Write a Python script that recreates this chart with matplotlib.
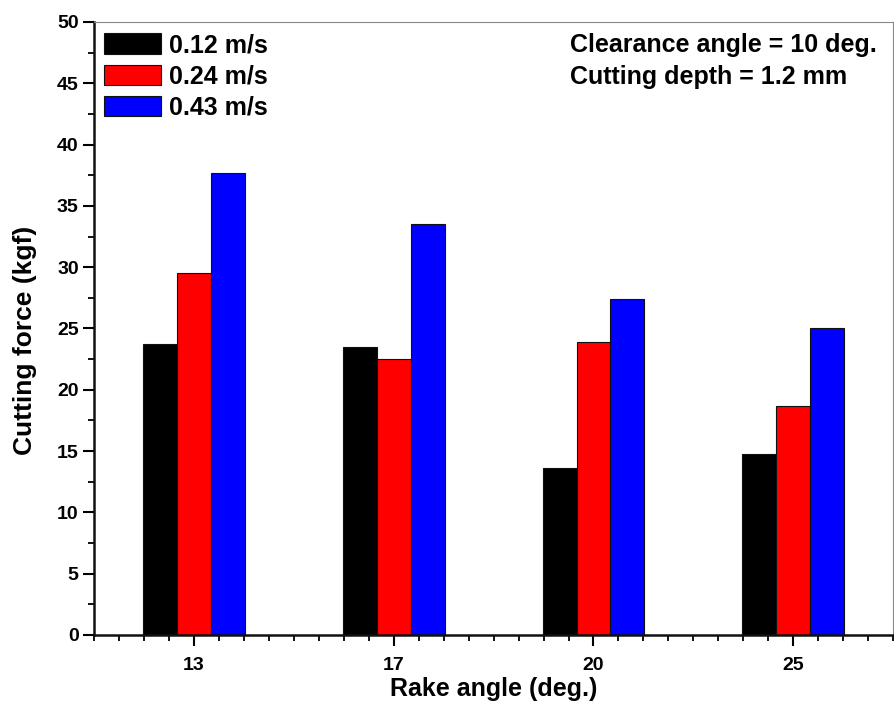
import matplotlib.pyplot as plt
import numpy as np
from matplotlib.ticker import MultipleLocator

plt.rcParams['font.family'] = ['Liberation Sans', 'DejaVu Sans']
plt.rcParams['font.weight'] = 'bold'

rake_angles = ['13', '17', '20', '25']
speeds = ['0.12 m/s', '0.24 m/s', '0.43 m/s']
force_012 = [23.7, 23.5, 13.6, 14.8]
force_024 = [29.5, 22.5, 23.9, 18.7]
force_043 = [37.7, 33.5, 27.4, 25.0]
bar_colors = ['#000000', '#ff0000', '#0000ff']

fig = plt.figure(figsize=(8.95, 7.06), dpi=100)
ax = fig.add_axes([0.105, 0.1006, 0.893, 0.8683])

x = np.arange(1, len(rake_angles) + 1)
w = 0.17
for i, (vals, c, lab) in enumerate(zip([force_012, force_024, force_043], bar_colors, speeds)):
    ax.bar(x + (i - 1) * w, vals, width=w, color=c, edgecolor='#111111',
           linewidth=0.8, label=lab, zorder=2)

ax.set_xlim(0.5, 4.5)
ax.set_ylim(0, 50)
ax.set_xticks(x)
ax.set_xticklabels(rake_angles)
ax.xaxis.set_minor_locator(MultipleLocator(0.125))
ax.yaxis.set_major_locator(MultipleLocator(5))
ax.yaxis.set_minor_locator(MultipleLocator(2.5))

ax.tick_params(axis='both', which='major', direction='out', length=8, width=1.5,
               labelsize=14, pad=3)
ax.tick_params(axis='both', which='minor', direction='out', length=4.5, width=1.3)
ax.tick_params(axis='x', which='major', pad=8)

for s in ['left', 'bottom']:
    ax.spines[s].set_linewidth(1.8)
    ax.spines[s].set_color('#111111')
for s in ['top', 'right']:
    ax.spines[s].set_linewidth(0.8)
    ax.spines[s].set_color('#888888')

ax.set_xlabel('Rake angle (deg.)', fontsize=18, fontweight='bold', labelpad=2)
ax.set_ylabel('Cutting force (kgf)', fontsize=19, fontweight='bold')
ax.yaxis.set_label_coords(-0.071, 0.481)

leg = ax.legend(loc='upper left', bbox_to_anchor=(0.0, 0.998), frameon=False,
                fontsize=18, handlelength=2.28, handleheight=0.88,
                handletextpad=0.32, labelspacing=0.29, borderaxespad=0.0)
for t in leg.get_texts():
    t.set_fontweight('bold')

ax.text(0.596, 0.982, 'Clearance angle = 10 deg.\nCutting depth = 1.2 mm',
        transform=ax.transAxes, ha='left', va='top', fontsize=18,
        fontweight='bold', linespacing=1.4)

fig.savefig('out.png', dpi=100)
